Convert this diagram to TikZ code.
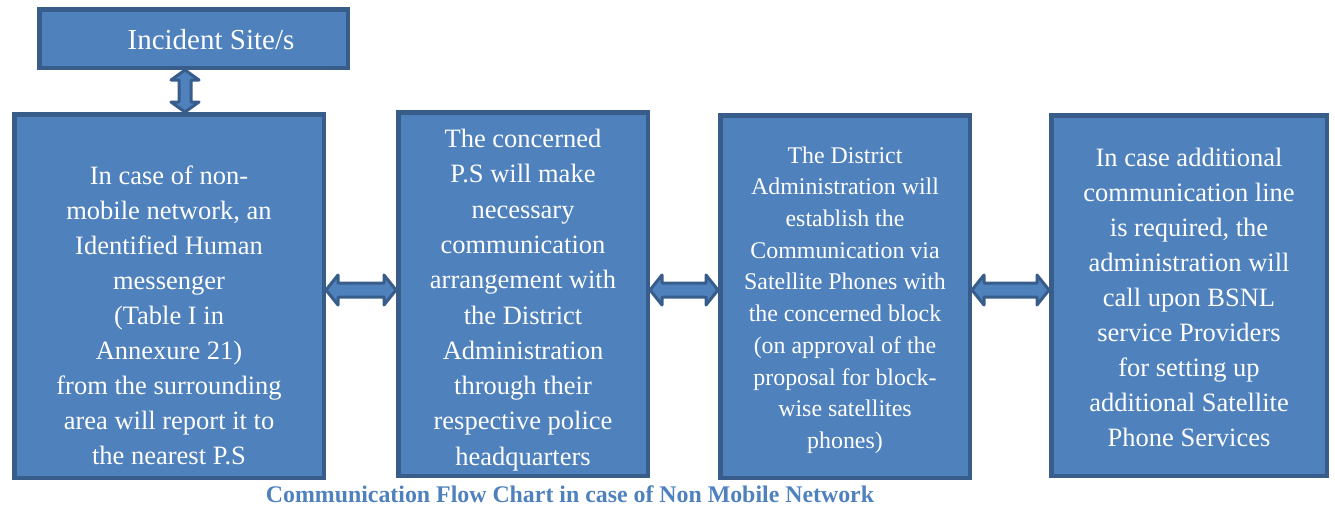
\documentclass[tikz,border=0pt]{standalone}
\usepackage{fontspec}
\setmainfont{Liberation Serif}
\usetikzlibrary{calc}
\definecolor{boxfill}{HTML}{4F81BD}
\definecolor{boxline}{HTML}{385D8A}
\definecolor{captioncol}{HTML}{4F81BD}
\tikzset{
  box/.style={rectangle, fill=boxfill, draw=boxline, line width=4.5pt, inner sep=0pt},
  boxtext/.style={align=center, text=white, inner sep=0pt},
  blockarrow/.style={fill=boxfill, draw=boxline, line width=3pt, line join=round},
}
% horizontal double block arrow between east of #1 and west of #2 at height #3
\newcommand{\hdarrow}[3]{%
  \draw[blockarrow] let \p1=(#1.east), \p2=(#2.west), \p3=(0,#3) in
    (\x1,\y3) -- (\x1+12pt,\y3+15pt) -- (\x1+12pt,\y3+7pt) -- (\x2-12pt,\y3+7pt)
    -- (\x2-12pt,\y3+15pt) -- (\x2,\y3) -- (\x2-12pt,\y3-15pt) -- (\x2-12pt,\y3-7pt)
    -- (\x1+12pt,\y3-7pt) -- (\x1+12pt,\y3-15pt) -- cycle;}
\begin{document}
\begin{tikzpicture}[x=1pt,y=-1pt]
\useasboundingbox (0,0) rectangle (1335,506);
% boxes
\node[box, minimum width=308.5pt, minimum height=58.5pt] (inc) at (193.5,38.5) {};
\node[box, minimum width=309.5pt, minimum height=363.5pt] (b1) at (169,296) {};
\node[box, minimum width=249.5pt, minimum height=363.5pt] (b2) at (523,294) {};
\node[box, minimum width=249.5pt, minimum height=362.5pt] (b3) at (845,296.5) {};
\node[box, minimum width=275.5pt, minimum height=360.5pt] (b4) at (1189,295.5) {};
% texts
\node[boxtext, font=\fontsize{29}{35}\selectfont] (tinc) at (211,40) {Incident Site/s};
\node[boxtext, font=\fontsize{26.5}{35}\selectfont] (t1) at (169,315) {In case of non-\\mobile network, an\\Identified Human\\messenger\\(Table I in\\Annexure 21)\\from the surrounding\\area will report it to\\the nearest P.S};
\node[boxtext, font=\fontsize{26.5}{35.3}\selectfont] (t2) at (523,300) {The concerned\\P.S will make\\necessary\\communication\\arrangement with\\the District\\Administration\\through their\\respective police\\headquarters};
\node[boxtext, font=\fontsize{23.9}{31.7}\selectfont] (t3) at (845,300) {The District\\Administration will\\establish the\\Communication via\\Satellite Phones with\\the concerned block\\(on approval of the\\proposal for block-\\wise satellites\\phones)};
\node[boxtext, font=\fontsize{26.5}{35}\selectfont] (t4) at (1189,297) {In case additional\\communication line\\is required, the\\administration will\\call upon BSNL\\service Providers\\for setting up\\additional Satellite\\Phone Services};
% arrows
\hdarrow{b1}{b2}{290}
\hdarrow{b2}{b3}{290}
\hdarrow{b3}{b4}{290}
\draw[blockarrow] let \p1=(inc.south), \p2=(b1.north), \p3=(185,0) in
  (\x3,\y1) -- (\x3+14pt,\y1-10pt) -- (\x3+6pt,\y1-10pt) -- (\x3+6pt,\y2+10pt)
  -- (\x3+14pt,\y2+10pt) -- (\x3,\y2) -- (\x3-14pt,\y2+10pt) -- (\x3-6pt,\y2+10pt)
  -- (\x3-6pt,\y1-10pt) -- (\x3-14pt,\y1-10pt) -- cycle;
% caption
\node[text=captioncol, font=\fontsize{23.85}{28}\bfseries, inner sep=0pt] (cap) at (570,494) {Communication Flow Chart in case of Non Mobile Network};
\end{tikzpicture}
\end{document}
